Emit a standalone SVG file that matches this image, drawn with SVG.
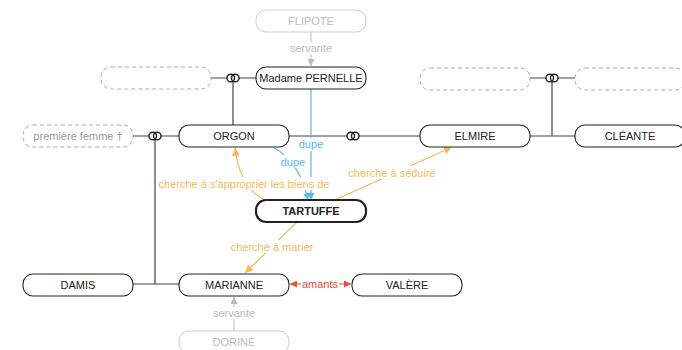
<svg xmlns="http://www.w3.org/2000/svg" width="682" height="350" viewBox="0 0 682 350">
<style>
text{font-family:"Liberation Sans",Arial,sans-serif;font-size:11px;text-anchor:middle;dominant-baseline:central}
.n rect{fill:#fff;stroke:#222;stroke-width:1.1}
.n text{fill:#222}
.t rect{stroke-width:2.2}
.t text{font-weight:bold}
.g rect{fill:#fff;stroke:#ccc;stroke-width:1}
.g text{fill:#bbb}
.d rect{fill:#fff;stroke:#aaa;stroke-width:1;stroke-dasharray:4 3}
.d text{fill:#999}
.fam{stroke:#444;stroke-width:1.2;fill:none}
.srv{stroke:#bbb;stroke-width:1;fill:none}
.blue{stroke:#5bb8f0;stroke-width:1.2;fill:none}
.or{stroke:#f7b955;stroke-width:1.2;fill:none}
.red{stroke:#f04a3a;stroke-width:1.2;fill:none}
.lb{fill:#fff}
</style>
<defs>
<marker id="ag" viewBox="0 0 10 10" refX="10" refY="5" markerWidth="7" markerHeight="7" orient="auto-start-reverse" markerUnits="userSpaceOnUse"><path d="M0,0L10,5L0,10z" fill="#bbb"/></marker>
<marker id="ab" viewBox="0 0 10 10" refX="10" refY="5" markerWidth="7" markerHeight="7" orient="auto-start-reverse" markerUnits="userSpaceOnUse"><path d="M0,0L10,5L0,10z" fill="#5bb8f0"/></marker>
<marker id="ao" viewBox="0 0 10 10" refX="10" refY="5" markerWidth="8" markerHeight="8" orient="auto-start-reverse" markerUnits="userSpaceOnUse"><path d="M0,0L10,5L0,10z" fill="#f7b955"/></marker>
<marker id="ar" viewBox="0 0 10 10" refX="10" refY="5" markerWidth="7" markerHeight="7" orient="auto-start-reverse" markerUnits="userSpaceOnUse"><path d="M0,0L10,5L0,10z" fill="#f04a3a"/></marker>
<g id="rings"><ellipse cx="0" cy="0" rx="6" ry="3.8" fill="#fff"/><g fill="none" stroke="#222" stroke-width="1.4"><circle cx="-2.25" cy="0" r="3.8"/><circle cx="2.25" cy="0" r="3.8"/></g></g>
</defs>
<rect width="682" height="350" fill="#fff"/>
<g id="connectors">
<path class="fam" d="M211 78H256M233 82V125"/>
<path class="fam" d="M133 136H179M155 140V284M133 284H179"/>
<path class="fam" d="M289 136H420"/>
<path class="fam" d="M530 78H575M552 82V136M530 136H575"/>
<use href="#rings" x="233" y="78"/>
<use href="#rings" x="155" y="136"/>
<use href="#rings" x="353" y="136"/>
<use href="#rings" x="552" y="78"/>
<path class="srv" d="M311 32V66" marker-end="url(#ag)"/>
<rect class="lb" x="286" y="42" width="50" height="12"/>
<text x="311" y="48" fill="#bbb">servante</text>
<path class="srv" d="M234 331V297" marker-end="url(#ag)"/>
<rect class="lb" x="209" y="307" width="50" height="12"/>
<text x="234" y="313" fill="#bbb">servante</text>
<path class="blue" d="M311 89V200" marker-end="url(#ab)"/>
<path class="blue" d="M273 147Q300 162 308 200" marker-end="url(#ab)"/>
<path class="or" d="M265 200Q240 188 235 148" marker-end="url(#ao)"/>
<path class="or" d="M335 200L452 147" marker-end="url(#ao)"/>
<path class="or" d="M297 222L245 273" marker-end="url(#ao)"/>
<path class="red" d="M290 284H351" marker-start="url(#ar)" marker-end="url(#ar)"/>
<rect class="lb" x="297" y="138" width="28" height="13"/>
<text x="311" y="144" fill="#5bb8f0">dupe</text>
<rect class="lb" x="279" y="155" width="28" height="13"/>
<text x="293" y="162" fill="#5bb8f0">dupe</text>
<rect class="lb" x="156" y="177" width="176" height="13"/>
<text x="244" y="184" fill="#f7b955">cherche à s'approprier les biens de</text>
<rect class="lb" x="346" y="166" width="92" height="13"/>
<text x="392" y="173" fill="#f7b955">cherche à séduire</text>
<rect class="lb" x="228" y="240" width="88" height="13"/>
<text x="272" y="247" fill="#f7b955">cherche à marier</text>
<rect class="lb" x="301" y="278" width="38" height="12"/>
<text x="320" y="284" fill="#f04a3a">amants</text>
</g>
<g id="flipote" class="n g"><rect x="256" y="10" width="110" height="22" rx="10"/><text x="311" y="21">FLIPOTE</text></g>
<g id="pernelle" class="n"><rect x="256" y="67" width="110" height="22" rx="10"/><text x="311" y="78">Madame PERNELLE</text></g>
<g id="pernelle-spouse" class="n d"><rect x="101" y="67" width="110" height="22" rx="10"/></g>
<g id="elmire-parent1" class="n d"><rect x="420" y="68" width="110" height="22" rx="10"/></g>
<g id="elmire-parent2" class="n d"><rect x="575" y="68" width="110" height="22" rx="10"/></g>
<g id="premiere-femme" class="n d"><rect x="23" y="125" width="110" height="22" rx="10"/><text x="78" y="136">première femme †</text></g>
<g id="orgon" class="n"><rect x="179" y="125" width="110" height="22" rx="10"/><text x="234" y="136">ORGON</text></g>
<g id="elmire" class="n"><rect x="420" y="125" width="110" height="22" rx="10"/><text x="475" y="136">ELMIRE</text></g>
<g id="cleante" class="n"><rect x="575" y="125" width="110" height="22" rx="10"/><text x="630" y="136">CLÉANTE</text></g>
<g id="tartuffe" class="n t"><rect x="256" y="200" width="110" height="22" rx="10"/><text x="311" y="211">TARTUFFE</text></g>
<g id="damis" class="n"><rect x="23" y="274" width="110" height="22" rx="10"/><text x="78" y="285">DAMIS</text></g>
<g id="marianne" class="n"><rect x="179" y="274" width="110" height="22" rx="10"/><text x="234" y="285">MARIANNE</text></g>
<g id="valere" class="n"><rect x="352" y="274" width="110" height="22" rx="10"/><text x="407" y="285">VALÈRE</text></g>
<g id="dorine" class="n g"><rect x="179" y="331" width="110" height="22" rx="10"/><text x="234" y="342">DORINE</text></g>
</svg>
